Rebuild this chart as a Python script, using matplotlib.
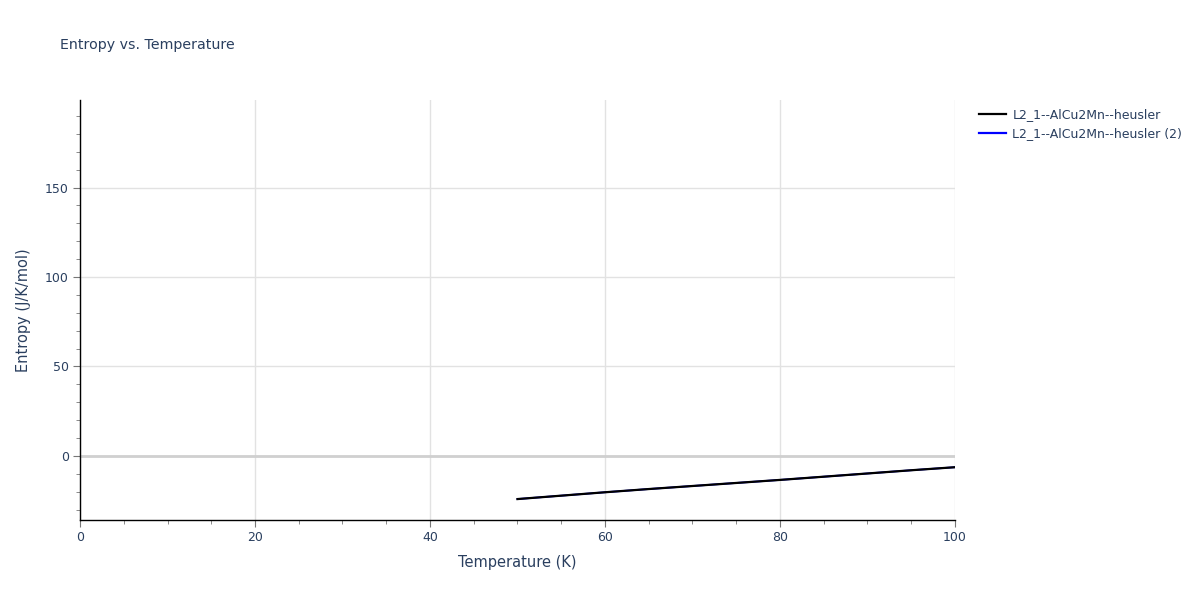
import matplotlib.pyplot as plt
from matplotlib.lines import Line2D
from matplotlib.ticker import MultipleLocator

# dados
temperatura = [50, 55, 60, 65, 70, 75, 80, 85, 90, 95, 100]
entropia = [-24.1, -22.2, -20.3, -18.5, -16.8, -15.1, -13.4, -11.6, -9.8, -8.0, -6.3]
temperatura_2 = temperatura
entropia_2 = entropia
nomes = ['L2_1--AlCu2Mn--heusler', 'L2_1--AlCu2Mn--heusler (2)']

texto = '#2a3f5f'
grade = '#e2e2e2'

fig = plt.figure(figsize=(12, 6), dpi=100)
ax = fig.add_axes([80 / 1200, 80 / 600, 875 / 1200, 420 / 600])

ax.plot(temperatura_2, entropia_2, color='blue', lw=1.3, zorder=3)
ax.plot(temperatura, entropia, color='black', lw=1.6, zorder=4)

ax.set_xlim(0, 100)
ax.set_ylim(-35.8, 198.9)
ax.xaxis.set_major_locator(MultipleLocator(20))
ax.xaxis.set_minor_locator(MultipleLocator(5))
ax.yaxis.set_major_locator(MultipleLocator(50))
ax.yaxis.set_minor_locator(MultipleLocator(10))

ax.grid(True, which='major', color=grade, lw=1)
ax.axhline(0, color='#d0d0d0', lw=2, zorder=1)
ax.set_axisbelow(True)

for lado in ['top', 'right']:
    ax.spines[lado].set_visible(False)
for lado in ['left', 'bottom']:
    ax.spines[lado].set_color('black')
    ax.spines[lado].set_linewidth(1)

ax.tick_params(which='major', direction='out', length=5, color='#777777',
               labelsize=9, labelcolor=texto, pad=3)
ax.tick_params(which='minor', direction='out', length=3, color='#777777')

ax.set_xlabel('Temperature (K)', fontsize=10.5, color=texto, labelpad=8)
ax.set_ylabel('Entropy (J/K/mol)', fontsize=10.5, color=texto, labelpad=10)
fig.text(60 / 1200, 1 - 45 / 600, 'Entropy vs. Temperature', fontsize=10.2,
         color=texto, va='center', ha='left')

handles = [Line2D([], [], color='black', lw=1.6), Line2D([], [], color='blue', lw=1.6)]
fig.legend(handles, nomes, loc='upper left', bbox_to_anchor=(976 / 1200, 1 - 106 / 600),
           frameon=False, fontsize=9, labelcolor=texto, handlelength=2.2,
           handletextpad=0.5, labelspacing=0.45, borderaxespad=0, borderpad=0.2)

fig.savefig('out.png', dpi=100)
